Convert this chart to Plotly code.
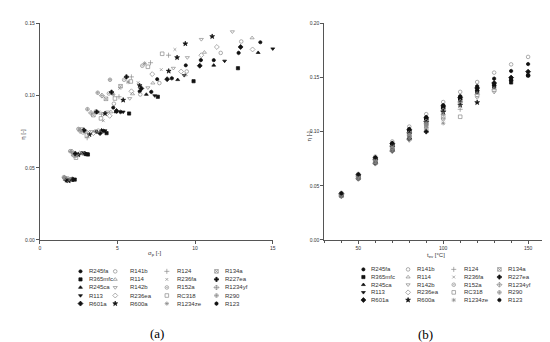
import plotly.graph_objects as go

W, H = 550, 342

# ---------------- data ----------------
T_EV = [40, 50, 60, 70, 80, 90, 100, 110, 120, 130, 140, 150]

NAMES = ["R245fa", "R365mfc", "R245ca", "R113", "R601a",
         "R141b", "R114", "R142b", "R236ea", "R600a",
         "R124", "R236fa", "R152a", "RC318", "R1234ze",
         "R134a", "R227ea", "R1234yf", "R290", "R123"]

# panel (a): pressure ratio sigma_p and efficiency
sig_R245fa = [2.0, 2.72, 3.65, 4.73, 6.43, 7.56, 9.4, 11.2, 14.2]
eta_a_R245fa = [0.0418, 0.0602, 0.075, 0.0917, 0.103, 0.1114, 0.121, 0.1246, 0.137]
sig_R365mfc = [2.25, 3.1, 4.3, 5.75, 7.6, 9.9, 12.76]
eta_a_R365mfc = [0.0418, 0.0592, 0.074, 0.0876, 0.0992, 0.110, 0.119]
sig_R245ca = [2.07, 2.83, 3.98, 4.9, 6.86, 8.88, 11.2, 14.06]
eta_a_R245ca = [0.0415, 0.060, 0.0761, 0.0887, 0.1008, 0.111, 0.121, 0.1298]
sig_R113 = [2.2, 3.03, 4.2, 5.37, 7.4, 9.3, 11.9, 15.0]
eta_a_R113 = [0.042, 0.0598, 0.0757, 0.0887, 0.100, 0.114, 0.124, 0.1325]
sig_R601a = [2.1, 2.9, 3.88, 4.94, 6.54, 8.2, 10.3, 12.93]
eta_a_R601a = [0.042, 0.0598, 0.074, 0.0894, 0.105, 0.1114, 0.1207, 0.1337]
sig_R141b = [2.03, 2.77, 3.77, 4.77, 6.47, 7.7, 9.46, 11.65, 12.97]
eta_a_R141b = [0.042, 0.0599, 0.0757, 0.0944, 0.1008, 0.1087, 0.1167, 0.1296, 0.1375]
sig_R114 = [1.96, 2.65, 3.56, 4.58, 5.97, 7.28, 9.37, 10.6, 13.67]
eta_a_R114 = [0.042, 0.0598, 0.0754, 0.0887, 0.1012, 0.1087, 0.1144, 0.130, 0.140]
sig_R142b = [1.9, 2.52, 3.35, 4.37, 5.79, 6.96, 8.6, 9.5, 10.4, 12.4]
eta_a_R142b = [0.042, 0.0595, 0.0751, 0.0887, 0.098, 0.1055, 0.119, 0.1264, 0.139, 0.1443]
sig_R236ea = [1.93, 2.58, 3.45, 4.5, 5.9, 7.24, 9.1, 10.4, 11.4, 13.7]
eta_a_R236ea = [0.0415, 0.060, 0.074, 0.086, 0.103, 0.1149, 0.1167, 0.128, 0.1337, 0.132]
sig_R600a = [1.86, 2.48, 3.2, 4.2, 5.37, 6.43, 8.3, 8.84, 9.37, 11.1]
eta_a_R600a = [0.041, 0.059, 0.073, 0.0876, 0.0969, 0.107, 0.117, 0.1264, 0.136, 0.141]
sig_R124 = [1.8, 2.38, 3.05, 3.98, 5.1, 5.9, 7.13, 8.29]
eta_a_R124 = [0.0415, 0.059, 0.0708, 0.0871, 0.0992, 0.113, 0.1228, 0.128]
sig_R236fa = [1.83, 2.42, 3.13, 4.09, 5.15, 6.33, 7.82, 8.7]
eta_a_R236fa = [0.042, 0.0585, 0.0751, 0.0826, 0.105, 0.109, 0.118, 0.132]
sig_R152a = [1.67, 2.2, 2.78, 3.6, 4.45, 5.43, 6.6]
eta_a_R152a = [0.042, 0.0585, 0.0745, 0.089, 0.1015, 0.111, 0.1207]
sig_RC318 = [1.76, 2.33, 3.03, 3.94, 4.84, 5.86, 6.96, 7.88]
eta_a_RC318 = [0.0425, 0.057, 0.0724, 0.0842, 0.098, 0.1098, 0.120, 0.129]
sig_R1234ze = [1.73, 2.3, 2.93, 3.8, 4.73, 5.69, 6.75]
eta_a_R1234ze = [0.041, 0.058, 0.0752, 0.0885, 0.1008, 0.1094, 0.1223]
sig_R134a = [1.63, 2.15, 2.7, 3.45, 4.26, 5.2]
eta_a_R134a = [0.0425, 0.0595, 0.0765, 0.0865, 0.0978, 0.1065]
sig_R227ea = [1.7, 2.28, 2.85, 3.66, 4.62, 5.58]
eta_a_R227ea = [0.0415, 0.0599, 0.076, 0.0887, 0.1024, 0.113]
sig_R1234yf = [1.6, 2.07, 2.6, 3.3, 4.0]
eta_a_R1234yf = [0.043, 0.0612, 0.0755, 0.088, 0.100]
sig_R290 = [1.55, 1.96, 2.49, 3.07, 3.73, 4.52]
eta_a_R290 = [0.0435, 0.0615, 0.0769, 0.0906, 0.102, 0.111]
sig_R123 = [2.15, 2.97, 4.1, 5.2, 7.18, 8.5, 10.37, 12.8]
eta_a_R123 = [0.0418, 0.0595, 0.0755, 0.0887, 0.1026, 0.112, 0.1246, 0.1296]

# panel (b): efficiency vs evaporation temperature (starting at 40 °C)
eta_b_R245fa = [0.0425, 0.060, 0.0755, 0.0885, 0.1012, 0.112, 0.123, 0.131, 0.1395, 0.1445, 0.1485]
eta_b_R365mfc = [0.042, 0.0594, 0.0747, 0.0873, 0.0998, 0.1105, 0.121, 0.129, 0.1365, 0.1415, 0.1455, 0.152]
eta_b_R245ca = [0.0423, 0.0598, 0.0752, 0.088, 0.1007, 0.1115, 0.1222, 0.1302, 0.1385, 0.1435, 0.148, 0.1525]
eta_b_R113 = [0.0422, 0.0596, 0.075, 0.0877, 0.1003, 0.111, 0.1217, 0.1296, 0.1375, 0.1425, 0.147, 0.1515]
eta_b_R601a = [0.0428, 0.0602, 0.0758, 0.089, 0.1018, 0.1128, 0.1237, 0.1318, 0.1404, 0.145, 0.150, 0.1555]
eta_b_R141b = [0.0435, 0.061, 0.077, 0.091, 0.1047, 0.1162, 0.1274, 0.1368, 0.1459, 0.1546, 0.1622, 0.1691]
eta_b_R114 = [0.042, 0.0592, 0.0745, 0.087, 0.0995, 0.110, 0.1203, 0.1283, 0.1355, 0.140]
eta_b_R142b = [0.0418, 0.0588, 0.074, 0.0862, 0.0985, 0.109, 0.119, 0.126, 0.1315, 0.1365]
eta_b_R236ea = [0.0418, 0.059, 0.0742, 0.0866, 0.099, 0.1095, 0.1196, 0.1275, 0.134, 0.1385]
eta_b_R600a = [0.0416, 0.0585, 0.0737, 0.0858, 0.098, 0.1085, 0.118, 0.1245, 0.127]
eta_b_R124 = [0.0414, 0.058, 0.073, 0.085, 0.097, 0.1075, 0.116, 0.1207]
eta_b_R236fa = [0.0415, 0.0582, 0.0733, 0.0854, 0.0976, 0.108, 0.117, 0.1237]
eta_b_R152a = [0.0412, 0.0577, 0.0725, 0.0843, 0.0962, 0.1065, 0.1117]
eta_b_RC318 = [0.0412, 0.0578, 0.0727, 0.0846, 0.0966, 0.107, 0.1135, 0.1138]
eta_b_R1234ze = [0.041, 0.0575, 0.0722, 0.084, 0.0958, 0.106, 0.1078]
eta_b_R134a = [0.0408, 0.057, 0.0715, 0.0832, 0.0945, 0.1025]
eta_b_R227ea = [0.0406, 0.0567, 0.071, 0.0826, 0.0935, 0.100]
eta_b_R1234yf = [0.0405, 0.0565, 0.0705, 0.082, 0.0925]
eta_b_R290 = [0.041, 0.0573, 0.072, 0.0836, 0.095, 0.1045]
eta_b_R123 = [0.043, 0.0605, 0.0762, 0.0895, 0.1025, 0.1135, 0.1245, 0.1328, 0.142, 0.149, 0.1561, 0.1625]

SIG = {n: globals()["sig_" + n] for n in NAMES}
ETA_A = {n: globals()["eta_a_" + n] for n in NAMES}
ETA_B = {n: globals()["eta_b_" + n] for n in NAMES}

# ---------------- styles ----------------
BLK = "#111111"
GRY = "#8a8a8a"
STYLE = {
    "R245fa": ("circle", BLK, 3.2),
    "R365mfc": ("square", BLK, 3.2),
    "R245ca": ("triangle-up", BLK, 3.4),
    "R113": ("triangle-down", BLK, 3.4),
    "R601a": ("diamond", BLK, 3.8),
    "R141b": ("circle-open", GRY, 3.6),
    "R114": ("triangle-up-open", GRY, 3.6),
    "R142b": ("triangle-down-open", GRY, 3.6),
    "R236ea": ("diamond-open", GRY, 3.8),
    "R600a": ("star", BLK, 3.6),
    "R124": ("cross-thin-open", GRY, 3.6),
    "R236fa": ("x-thin-open", GRY, 2.8),
    "R152a": ("circle-open-dot", GRY, 3.6),
    "RC318": ("square-open", GRY, 3.6),
    "R1234ze": ("asterisk-open", GRY, 3.6),
    "R134a": ("square-x-open", GRY, 3.6),
    "R227ea": ("cross", BLK, 3.4),
    "R1234yf": ("diamond-cross-open", GRY, 3.8),
    "R290": ("circle-cross-open", GRY, 3.6),
    "R123": ("hexagon", BLK, 3.6),
}


def marker(n):
    sym, col, size = STYLE[n]
    return dict(symbol=sym, color=col, size=size,
                line=dict(color=col, width=0.7))


def px_x(p):
    return p / W


def px_y(p):
    return 1 - p / H


fig = go.Figure()

for n in NAMES:
    fig.add_trace(go.Scatter(x=SIG[n], y=ETA_A[n], mode="markers", name=n,
                             marker=marker(n), xaxis="x", yaxis="y",
                             cliponaxis=False, showlegend=False))
    fig.add_trace(go.Scatter(x=T_EV[:len(ETA_B[n])], y=ETA_B[n], mode="markers", name=n,
                             marker=marker(n), xaxis="x2", yaxis="y2",
                             cliponaxis=False, showlegend=False))

# ---------------- legends (drawn on an overlay pixel axis) ----------------
LEG_A = dict(mx=[72, 107, 159, 209], tx=[79, 120, 167, 216], y0=265, dy=8.2)
LEG_B = dict(mx=[357, 402, 448, 494], tx=[363, 409, 456, 501], y0=263, dy=7.8)

annotations = []
for leg in (LEG_A, LEG_B):
    for i, n in enumerate(NAMES):
        c, r = i // 5, i % 5
        yy = leg["y0"] + leg["dy"] * r
        fig.add_trace(go.Scatter(x=[leg["mx"][c]], y=[yy], mode="markers",
                                 marker=marker(n), xaxis="x3", yaxis="y3",
                                 showlegend=False, hoverinfo="skip", cliponaxis=False))
        annotations.append(dict(x=leg["tx"][c], y=yy, xref="x3", yref="y3", text=n,
                                showarrow=False, xanchor="left", yanchor="middle",
                                font=dict(size=6, color="#333333")))

TXT = dict(family="Liberation Sans, Arial", color="#333333")
annotations += [
    dict(x=147, y=247, xref="x3", yref="y3", text="σ<sub>p</sub> [-]", showarrow=False,
         font=dict(size=6, **TXT)),
    dict(x=430, y=249, xref="x3", yref="y3", text="t<sub>ev</sub> [°C]", showarrow=False,
         font=dict(size=6, **TXT)),
    dict(x=14, y=125, xref="x3", yref="y3", text="η [-]", showarrow=False, textangle=-90,
         font=dict(size=6, **TXT)),
    dict(x=302, y=127, xref="x3", yref="y3", text="η [-]", showarrow=False, textangle=-90,
         font=dict(size=6, **TXT)),
    dict(x=149, y=328, xref="x3", yref="y3", text="(a)", showarrow=False,
         font=dict(size=13, family="Liberation Serif", color="#000000")),
    dict(x=420, y=329, xref="x3", yref="y3", text="(b)", showarrow=False,
         font=dict(size=13, family="Liberation Serif", color="#000000")),
]

AX = dict(showline=True, linecolor="#555555", linewidth=1, ticks="outside", ticklen=3,
          tickwidth=1, tickcolor="#555555", showgrid=False, zeroline=False,
          tickfont=dict(size=5, family="Liberation Sans, Arial", color="#333333"))

fig.update_layout(
    width=W, height=H, autosize=False,
    margin=dict(l=0, r=0, t=0, b=0),
    paper_bgcolor="white", plot_bgcolor="rgba(0,0,0,0)",
    font=dict(family="Liberation Sans, Arial"),
    xaxis=dict(domain=[px_x(31), px_x(265.7)], anchor="y", range=[0, 15],
               tickvals=[0, 5, 10, 15], **AX),
    yaxis=dict(domain=[px_y(233), px_y(12.7)], anchor="x", range=[0, 0.15],
               tickvals=[0, 0.05, 0.10, 0.15], tickformat=".2f", **AX),
    xaxis2=dict(domain=[px_x(317.7), px_x(540)], anchor="y2", range=[30, 160],
                tickvals=[50, 100, 150],
                minor=dict(ticks="outside", ticklen=2, dtick=10, tick0=30,
                           tickcolor="#555555", showgrid=False), **AX),
    yaxis2=dict(domain=[px_y(233), px_y(12.7)], anchor="x2", range=[0, 0.20],
                tickvals=[0, 0.05, 0.10, 0.15, 0.20], tickformat=".2f", **AX),
    xaxis3=dict(domain=[0, 1], anchor="y3", range=[0, W], visible=False, fixedrange=True),
    yaxis3=dict(domain=[0, 1], anchor="x3", range=[H, 0], visible=False, fixedrange=True),
    annotations=annotations,
    showlegend=False,
)

fig.write_html("out.html")
